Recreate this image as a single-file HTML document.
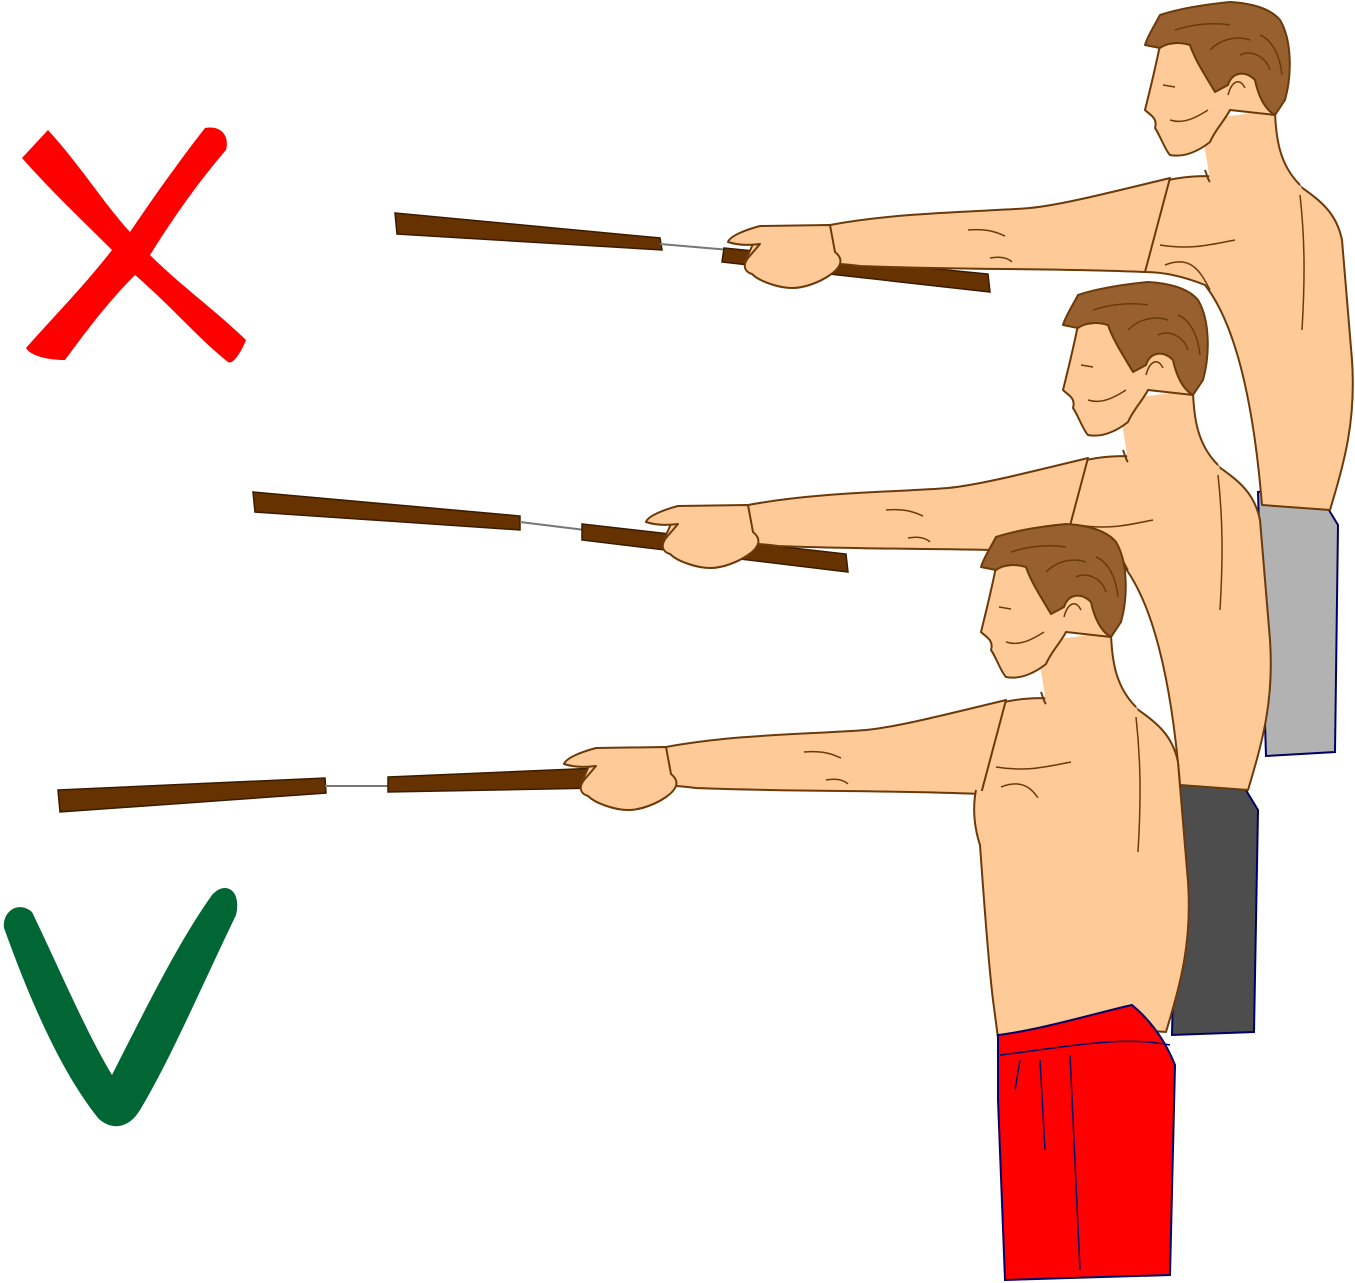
<!DOCTYPE html>
<html><head><meta charset="utf-8"><style>html,body{margin:0;padding:0;background:#fff}svg{display:block}</style></head>
<body>
<svg width="1355" height="1283" viewBox="0 0 1355 1283" xmlns="http://www.w3.org/2000/svg">
<defs>
<g id="fig" stroke="#6b3a0a" stroke-width="2" stroke-linejoin="round">
  <!-- torso -->
  <path d="M1140,190 C1170,175 1210,172 1255,182 C1270,170 1280,165 1285,175 C1310,195 1335,205 1342,240 L1352,360 C1356,420 1345,460 1330,510 L1262,505 C1255,420 1240,330 1205,285 C1180,275 1160,272 1145,272 Z" fill="#fecb98"/>
  <!-- neck -->
  <path d="M1200,120 L1275,110 C1276,140 1282,165 1302,188 L1290,192 C1260,185 1230,180 1210,182 C1208,165 1205,150 1200,120 Z" fill="#fecb98" stroke="none"/>
  <path d="M1275,112 C1276,140 1280,165 1300,185 M1205,170 C1207,175 1208,180 1210,182" fill="none"/>
  <!-- arm -->
  <path d="M1170,178 C1100,195 1060,205 1030,208 C980,212 900,212 830,225 L760,228 L745,262 C790,262 830,262 860,266 C960,270 1060,268 1145,272 Z" fill="#fecb98"/>
  <!-- hand -->
  <path d="M760,226 C745,230 730,236 728,242 C740,246 752,245 760,244 L748,258 C742,266 745,272 752,274 C760,282 780,288 792,288 C805,288 820,282 830,275 C840,268 845,260 835,252 L830,225 Z" fill="#fecb98"/>
  <!-- face/head -->
  <path d="M1160,45 C1155,70 1150,90 1145,110 C1150,115 1158,118 1155,128 C1160,135 1165,150 1170,155 C1185,158 1200,150 1210,142 C1215,130 1225,120 1230,110 L1275,115 L1280,60 L1200,40 Z" fill="#fecb98"/>
  <!-- hair -->
  <path d="M1145,45 C1148,35 1155,25 1160,15 C1175,10 1200,5 1230,2 C1250,3 1270,8 1280,20 C1292,40 1292,75 1285,100 L1275,115 C1265,110 1258,95 1255,80 C1245,70 1232,72 1228,85 L1215,92 C1205,75 1195,60 1190,45 C1180,42 1168,42 1160,48 Z" fill="#99602f"/>
  <path d="M1175,30 C1190,25 1210,22 1230,25 M1210,50 C1220,40 1235,35 1250,40 M1240,55 C1250,50 1265,55 1270,70 M1260,35 C1272,40 1280,55 1282,75 M1228,95 C1232,80 1240,78 1245,88" fill="none" stroke-width="1.5"/>
  <path d="M1163,85 L1175,87 M1170,120 C1185,125 1200,115 1208,110" fill="none" stroke-width="1.5"/>
  <!-- back lines -->
  <path d="M1300,195 C1305,240 1305,280 1302,330 M1160,245 C1190,250 1210,245 1235,240 M1165,265 C1190,255 1200,270 1210,290 M968,230 C990,228 1000,234 1005,236 M990,258 C1000,256 1008,258 1012,262" fill="none" stroke-width="1.5"/>
</g>
</defs>

<!-- Figure 1 -->
<path d="M395,213 L660,238 L662,250 L397,234 Z" fill="#663300" stroke="#3a1a00" stroke-width="1.5"/>
<path d="M660,244 L730,250" stroke="#777" stroke-width="2" fill="none"/>
<path d="M724,248 L988,274 L990,292 L722,262 Z" fill="#663300" stroke="#3a1a00" stroke-width="1.5"/>
<path d="M1258,492 L1305,484 L1318,492 L1338,525 L1335,752 L1266,756 Z" fill="#b2b2b2" stroke="#000066" stroke-width="2"/>
<use href="#fig"/>

<!-- Figure 2 -->
<path d="M253,492 L520,516 L520,530 L255,512 Z" fill="#663300" stroke="#3a1a00" stroke-width="1.5"/>
<path d="M520,522 L585,530" stroke="#777" stroke-width="2" fill="none"/>
<path d="M582,524 L846,554 L848,572 L582,540 Z" fill="#663300" stroke="#3a1a00" stroke-width="1.5"/>
<path d="M1178,770 L1222,762 L1235,772 L1258,810 L1254,1032 L1172,1035 Z" fill="#4d4d4d" stroke="#000066" stroke-width="2"/>
<use href="#fig" transform="translate(-82,280)"/>

<!-- Figure 3 -->
<path d="M58,790 L325,778 L326,793 L60,812 Z" fill="#663300" stroke="#3a1a00" stroke-width="1.5"/>
<path d="M325,786 L390,786" stroke="#777" stroke-width="2" fill="none"/>
<path d="M388,777 L598,768 L598,788 L388,792 Z" fill="#663300" stroke="#3a1a00" stroke-width="1.5"/>
<use href="#fig" transform="translate(-164,522)"/>
<path d="M976,790 C972,810 975,830 980,845 C984,900 988,960 993,1000 L998,1038 L1120,1030 L1060,800 L1000,794 Z" fill="#fecb98" stroke="none"/>
<path d="M976,790 C972,810 975,830 980,845 C984,900 988,960 993,1000 L998,1038" fill="none" stroke="#6b3a0a" stroke-width="2"/>
<path d="M998,1035 C1040,1030 1100,1012 1132,1005 C1150,1020 1165,1040 1175,1065 L1170,1275 L1005,1280 L998,1100 Z" fill="#ff0000" stroke="#000066" stroke-width="2"/>
<path d="M1000,1055 C1060,1048 1120,1035 1170,1045 M1020,1060 L1015,1090 M1040,1060 L1045,1150 M1070,1055 L1080,1270" stroke="#000066" stroke-width="1.5" fill="none"/>

<!-- red X -->
<path d="M22,158 L48,130 C80,165 105,205 130,232 C155,195 180,160 205,128 C220,125 230,135 226,150 C200,180 175,215 150,255 C180,285 215,310 246,340 C240,355 232,365 228,362 C200,340 170,305 135,275 C105,305 80,340 65,360 C45,360 30,355 26,348 C55,315 85,285 112,250 C82,220 50,190 22,158 Z" fill="#ff0000"/>

<!-- green check -->
<path d="M4,928 C2,912 18,900 32,912 C60,970 85,1030 112,1075 C150,1000 180,940 212,895 C225,880 242,890 236,915 C200,990 170,1060 140,1110 C128,1130 110,1130 98,1118 C60,1070 30,1000 4,928 Z" fill="#006633"/>
</svg>
</body></html>
